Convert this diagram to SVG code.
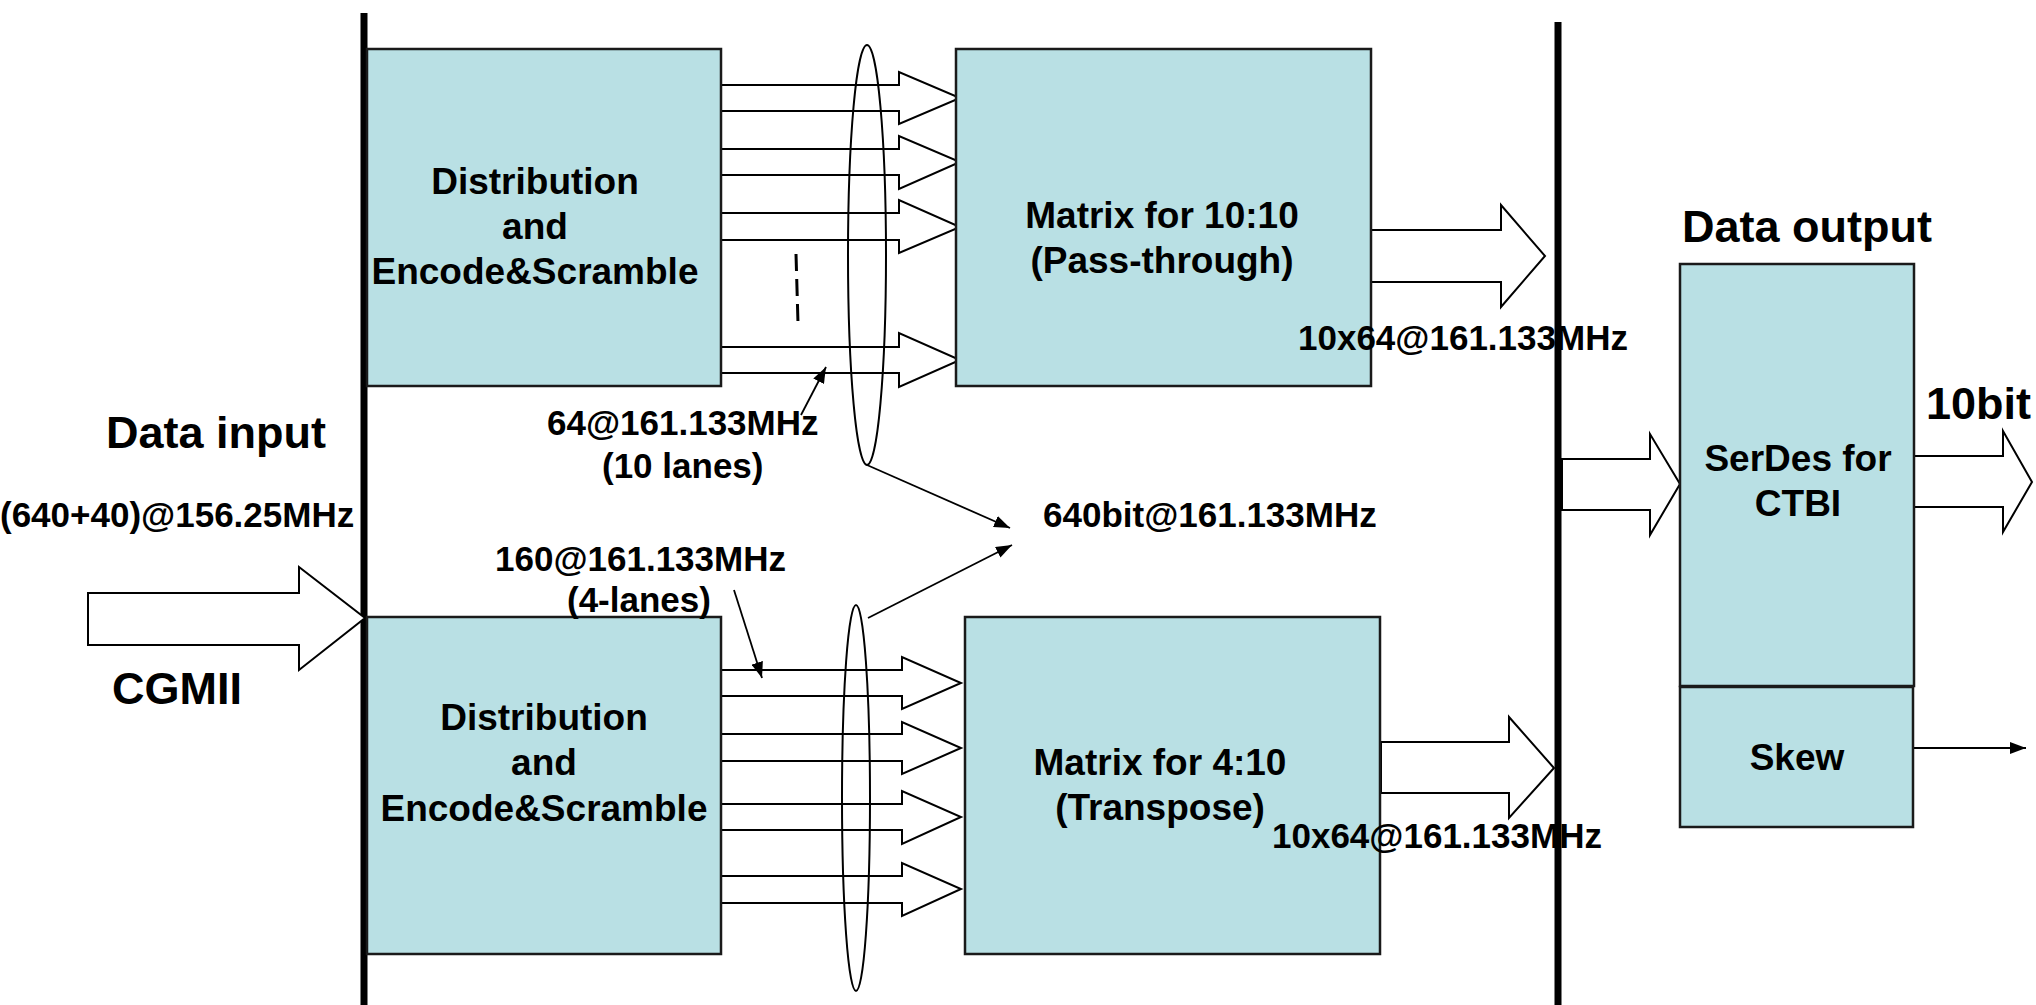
<svg xmlns="http://www.w3.org/2000/svg" width="2036" height="1005" viewBox="0 0 2036 1005">
<style>
.box{fill:#B9E0E4;stroke:#1a1a1a;stroke-width:2.5}
.bar{stroke:#000;stroke-width:7}
.blk{fill:#fff;stroke:#000;stroke-width:2;stroke-linejoin:miter}
.ell{fill:none;stroke:#000;stroke-width:2}
.lead{fill:none;stroke:#000;stroke-width:1.8}
text{font-family:"Liberation Sans",Arial,sans-serif;font-weight:bold;fill:#000}
.t35{font-size:35px}
.t37{font-size:37px;text-anchor:middle}
.t45{font-size:45px}
</style>
<defs>
<marker id="ah" viewBox="0 0 16 12" refX="16" refY="6" markerWidth="16" markerHeight="12" markerUnits="userSpaceOnUse" orient="auto">
<path d="M0,0 L16,6 L0,12 Z" fill="#000"/>
</marker>
</defs>
<rect width="2036" height="1005" fill="#fff"/>

<g id="connectors">
<line class="bar" x1="364" y1="13" x2="364" y2="1005"/>
<line class="bar" x1="1558" y1="22" x2="1558" y2="1005"/>
<!-- CGMII input -->
<polygon class="blk" points="88,593 299,593 299,567 365,618 299,670 299,645 88,645"/>
<!-- top lanes -->
<polygon class="blk" points="721,85 899,85 899,72 960,98 899,124 899,111 721,111"/>
<polygon class="blk" points="721,149 899,149 899,136 960,162 899,189 899,175 721,175"/>
<polygon class="blk" points="721,213 899,213 899,200 960,227 899,253 899,240 721,240"/>
<polygon class="blk" points="721,347 899,347 899,333 960,360 899,387 899,373 721,373"/>
<line x1="796" y1="254" x2="798" y2="323" stroke="#000" stroke-width="3" stroke-dasharray="17 8"/>
<ellipse class="ell" cx="867" cy="255" rx="19" ry="210"/>
<!-- bottom lanes -->
<polygon class="blk" points="721,670 902,670 902,657 961,683 902,709 902,696 721,696"/>
<polygon class="blk" points="721,734 902,734 902,722 961,748 902,774 902,761 721,761"/>
<polygon class="blk" points="721,804 902,804 902,791 961,817 902,844 902,830 721,830"/>
<polygon class="blk" points="721,876 902,876 902,863 961,889 902,916 902,903 721,903"/>
<ellipse class="ell" cx="856" cy="798" rx="14" ry="193"/>
<!-- matrix outputs -->
<polygon class="blk" points="1371,230 1501,230 1501,205 1545,256 1501,307 1501,282 1371,282"/>
<polygon class="blk" points="1381,742 1509,742 1509,717 1554,768 1509,818 1509,793 1381,793"/>
<!-- serdes in / out -->
<polygon class="blk" points="1562,459 1650,459 1650,434 1680,484 1650,535 1650,510 1562,510"/>
<polygon class="blk" points="1914,456 2003,456 2003,431 2032,482 2003,532 2003,507 1914,507"/>
<line class="lead" x1="1914" y1="748" x2="2026" y2="748" marker-end="url(#ah)"/>
<!-- leaders -->
<line class="lead" x1="801" y1="415" x2="826" y2="367" marker-end="url(#ah)"/>
<line class="lead" x1="867" y1="465" x2="1010" y2="528" marker-end="url(#ah)"/>
<line class="lead" x1="868" y1="618" x2="1012" y2="545" marker-end="url(#ah)"/>
<line class="lead" x1="734" y1="590" x2="762" y2="678" marker-end="url(#ah)"/>
</g>

<g id="dist-top">
<rect class="box" x="367" y="49" width="354" height="337"/>
<text class="t37" x="535" y="194">Distribution</text>
<text class="t37" x="535" y="239">and</text>
<text class="t37" x="535" y="284">Encode&amp;Scramble</text>
</g>
<g id="matrix-top">
<rect class="box" x="956" y="49" width="415" height="337"/>
<text class="t37" x="1162" y="228">Matrix for 10:10</text>
<text class="t37" x="1162" y="273">(Pass-through)</text>
</g>
<g id="dist-bottom">
<rect class="box" x="367" y="617" width="354" height="337"/>
<text class="t37" x="544" y="730">Distribution</text>
<text class="t37" x="544" y="775">and</text>
<text class="t37" x="544" y="821">Encode&amp;Scramble</text>
</g>
<g id="matrix-bottom">
<rect class="box" x="965" y="617" width="415" height="337"/>
<text class="t37" x="1160" y="775">Matrix for 4:10</text>
<text class="t37" x="1160" y="820">(Transpose)</text>
</g>
<g id="serdes">
<rect class="box" x="1680" y="264" width="234" height="422"/>
<text class="t37" x="1798" y="471">SerDes for</text>
<text class="t37" x="1798" y="516">CTBI</text>
</g>
<g id="skew">
<rect class="box" x="1680" y="687" width="233" height="140"/>
<text class="t37" x="1797" y="770">Skew</text>
</g>

<g id="labels">
<text class="t45" x="106" y="448" font-size="47">Data input</text>
<text class="t35" x="0" y="527">(640+40)@156.25MHz</text>
<text class="t45" x="112" y="704">CGMII</text>
<text class="t35" x="547" y="435">64@161.133MHz</text>
<text class="t35" x="602" y="478">(10 lanes)</text>
<text class="t35" x="1043" y="527">640bit@161.133MHz</text>
<text class="t35" x="495" y="571">160@161.133MHz</text>
<text class="t35" x="567" y="612">(4-lanes)</text>
<text class="t35" x="1298" y="350">10x64@161.133MHz</text>
<text class="t35" x="1272" y="848">10x64@161.133MHz</text>
<text class="t45" x="1682" y="242">Data output</text>
<text class="t45" x="1926" y="419">10bit</text>
</g>
</svg>
